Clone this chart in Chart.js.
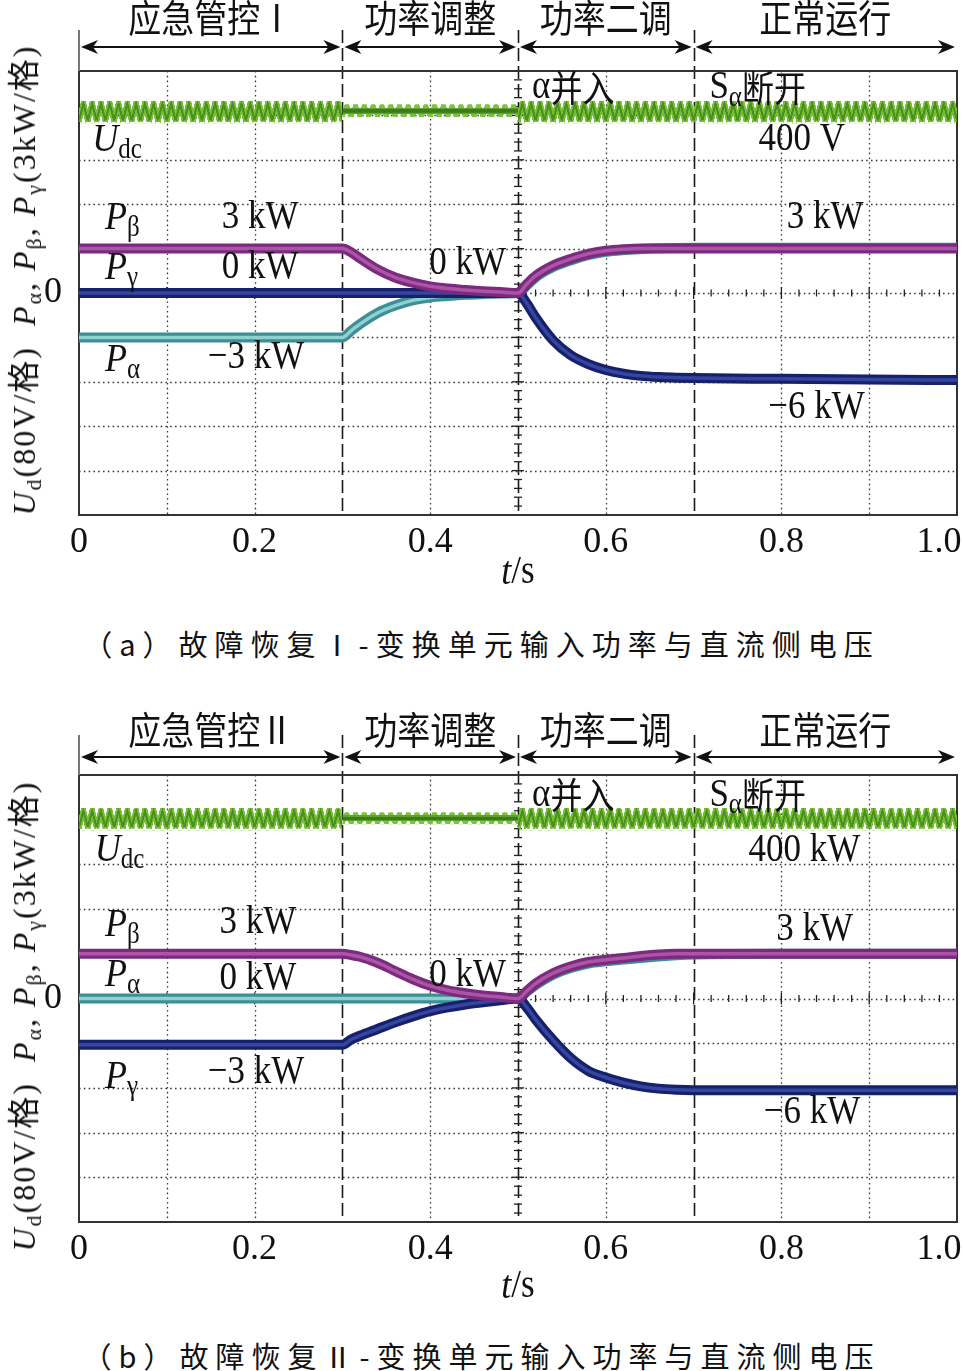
<!DOCTYPE html>
<html>
<head>
<meta charset="utf-8">
<title>故障恢复-变换单元输入功率与直流侧电压</title>
<script src="https://cdn.jsdelivr.net/npm/chart.js@4.4.1/dist/chart.umd.min.js"></script>
<style>
  html, body { margin: 0; padding: 0; background: #fff; }
  #page { position: relative; width: 963px; height: 1371px; overflow: hidden; background: #fff; }
  canvas { position: absolute; left: 0; }
  #chartA { top: 0; }
  #chartB { top: 704px; }
  .ytitle { position: absolute; white-space: nowrap; color: #111;
    font: 32px "Liberation Serif", "Noto Sans CJK SC", serif; letter-spacing: 2px;
    transform: translate(-50%, -50%) rotate(-90deg); }
  .ytitle sub { font-size: 22px; vertical-align: -6px; line-height: 0; }
  .cap { position: absolute; left: 0; width: 963px; text-align: center; color: #111;
    font: 29px "Noto Sans CJK SC", sans-serif; letter-spacing: 7px; transform: translateY(-50%); }
</style>
</head>
<body>
<div id="page">
  <canvas id="chartA" width="963" height="600"></canvas>
  <canvas id="chartB" width="963" height="600"></canvas>
  <div class="ytitle" style="left:21px;top:280px"><i>U</i><sub>d</sub>(80V/格)&nbsp; <i>P</i><sub>α</sub>, <i>P</i><sub>β</sub>, <i>P</i><sub>γ</sub>(3kW/格)</div>
  <div class="ytitle" style="left:21px;top:1016px"><i>U</i><sub>d</sub>(80V/格)&nbsp; <i>P</i><sub>α</sub>, <i>P</i><sub>β</sub>, <i>P</i><sub>γ</sub>(3kW/格)</div>
  <div class="cap" style="top:643px">（a）故障恢复Ⅰ-变换单元输入功率与直流侧电压</div>
  <div class="cap" style="top:1355px">（b）故障恢复Ⅱ-变换单元输入功率与直流侧电压</div>
</div>
<script>
const SERIF = '"Liberation Serif", "DejaVu Serif", serif';
const CJK = '"Noto Sans CJK SC", sans-serif';

// time axis (s) and tick labels
const xTickLabels = ['0', '0.2', '0.4', '0.6', '0.8', '1.0'];
const phaseBounds = [0, 0.3, 0.5, 0.7, 1.0];
const phaseNamesA = ['应急管控Ⅰ', '功率调整', '功率二调', '正常运行'];
const phaseNamesB = ['应急管控Ⅱ', '功率调整', '功率二调', '正常运行'];

// sample times for the power traces
const tTrace = [0, 0.3, 0.31, 0.32, 0.34, 0.36, 0.38, 0.40, 0.42, 0.44, 0.46, 0.48, 0.5,
  0.51, 0.52, 0.54, 0.56, 0.58, 0.60, 0.62, 0.64, 0.66, 0.68, 0.70, 0.8, 0.9, 1.0];

// (a) powers in kW
const betaA  = [3.0, 3.0, 2.75, 2.35, 1.6, 1.05, 0.7, 0.45, 0.3, 0.2, 0.12, 0.06, 0.0,
  0.6, 1.15, 1.85, 2.3, 2.65, 2.85, 2.95, 3.0, 3.0, 3.0, 3.0, 3.0, 3.0, 3.0];
const alphaA = [-3.0, -3.0, -2.55, -2.1, -1.35, -0.85, -0.5, -0.3, -0.2, -0.12, -0.07, -0.03, 0.0,
  0.5, 1.05, 1.75, 2.2, 2.55, 2.78, 2.9, 2.97, 3.02, 3.04, 3.05, 3.05, 3.05, 3.05];
const gammaA = [0, 0, 0, 0, 0, 0, 0, 0, 0, 0, 0, 0, 0,
  -0.7, -1.65, -3.2, -4.2, -4.8, -5.2, -5.45, -5.6, -5.68, -5.72, -5.75, -5.8, -5.85, -5.88];

// (b) powers in kW
const betaB  = [3.0, 3.0, 2.92, 2.8, 2.4, 1.85, 1.3, 0.85, 0.55, 0.35, 0.2, 0.1, 0.0,
  0.5, 1.0, 1.7, 2.15, 2.45, 2.6, 2.72, 2.85, 2.95, 3.0, 3.0, 3.0, 3.0, 3.0];
const alphaB = [0, 0, 0, 0, 0, 0, 0, 0, 0, 0, 0, 0, 0,
  0.45, 0.9, 1.6, 2.05, 2.35, 2.5, 2.62, 2.72, 2.82, 2.9, 2.95, 3.0, 3.0, 3.0];
const gammaB = [-3.1, -3.1, -2.75, -2.5, -2.05, -1.6, -1.2, -0.85, -0.6, -0.4, -0.25, -0.12, 0.0,
  -0.6, -1.4, -2.8, -4.0, -4.85, -5.3, -5.65, -5.9, -6.05, -6.12, -6.15, -6.15, -6.15, -6.15];

// Udc ripple band (in plot units), per phase segment, ripple period 0.01 s
const udcStart = [0, 0.3, 0.5];
const udcEnd   = [0.3, 0.5, 1.0];
const udcHiA = [13.0, 12.75, 13.0];
const udcLoA = [11.45, 11.85, 11.45];
const udcHiB = [12.78, 12.5, 12.78];
const udcLoB = [11.3, 11.7, 11.3];
const udcPeriod = 0.01;

const FONTS = {
  r: `35px ${SERIF}`,
  i: `italic 36px ${SERIF}`,
  s: `25px ${SERIF}`,
  c: `32px ${CJK}`,
  h: `33px ${CJK}`
};

function drawRich(ctx, x, y, parts, center) {
  ctx.save();
  ctx.translate(x, y);
  ctx.scale(1, 1.14);
  ctx.textBaseline = 'middle';
  ctx.textAlign = 'left';
  ctx.fillStyle = '#111';
  let total = 0;
  parts.forEach(([k, s]) => { ctx.font = FONTS[k]; total += ctx.measureText(s).width; });
  let cx = center ? -total / 2 : 0;
  parts.forEach(([k, s]) => {
    ctx.font = FONTS[k];
    ctx.fillText(s, cx, k === 's' ? 9 : 0);
    cx += ctx.measureText(s).width;
  });
  ctx.restore();
}

const P = (sub) => [['i', 'P'], ['s', sub]];
const kw = (s) => [['r', s]];

// ripple texture for the Udc band, scaled to one ripple period and the band height
function udcPattern(hi, lo, calm) {
  return (c) => {
    const chart = c.chart, area = chart.chartArea;
    if (!area) return 'rgba(110,180,50,0.8)';
    const xs = chart.scales.x, ys = chart.scales.y;
    const top = ys.getPixelForValue(hi);
    const h = ys.getPixelForValue(lo) - top;
    const w = xs.getPixelForValue(udcPeriod) - xs.getPixelForValue(0);
    const tw = 40, th = 80;
    const tile = document.createElement('canvas');
    tile.width = tw; tile.height = th;
    const g = tile.getContext('2d');
    const zig = (a, b) => { g.beginPath(); g.moveTo(0, th * b); g.lineTo(tw / 2, th * a); g.lineTo(tw, th * b); g.stroke(); };
    g.lineJoin = 'miter';
    if (calm) {
      g.strokeStyle = '#7cc43e'; g.lineWidth = 20; zig(0.04, 0.96);
      g.fillStyle = '#5ea330';
      g.fillRect(0, th * 0.25, tw, th * 0.5);
      g.fillStyle = '#3c7a1a';
      g.fillRect(0, th * 0.38, tw, th * 0.24);
    } else {
      g.strokeStyle = '#76be36'; g.lineWidth = 24; zig(0.08, 0.92);
      g.strokeStyle = '#4a8f1f'; g.lineWidth = 9; zig(0.14, 0.86);
    }
    const pat = chart.ctx.createPattern(tile, 'repeat');
    pat.setTransform(new DOMMatrix().translate(area.left, top).scale(w / tw, h / th));
    return pat;
  };
}

function scopePlugin(cfg) {
  return {
    id: 'scope' + cfg.id,
    beforeDatasetsDraw(chart) {
      const {ctx, chartArea: a, scales: {x, y}} = chart;
      const seg = (x0, y0, x1, y1) => { ctx.beginPath(); ctx.moveTo(x0, y0); ctx.lineTo(x1, y1); ctx.stroke(); };
      ctx.save();
      // dotted divisions
      ctx.strokeStyle = '#3a3a3a'; ctx.lineWidth = 1.3; ctx.setLineDash([1.6, 3.2]);
      for (let i = 1; i < 10; i++) {
        const t = i / 10;
        if (phaseBounds.some(b => Math.abs(b - t) < 1e-9)) continue;
        const px = Math.round(x.getPixelForValue(t)) + 0.5;
        seg(px, a.top, px, a.bottom);
      }
      for (let v = -12; v <= 12; v += 3) {
        const py = Math.round(y.getPixelForValue(v)) + 0.5;
        seg(a.left, py, a.right, py);
      }
      // phase boundaries
      ctx.setLineDash([13, 5]); ctx.strokeStyle = '#1a1a1a'; ctx.lineWidth = 1.6;
      phaseBounds.slice(1, -1).forEach(t => {
        const px = Math.round(x.getPixelForValue(t)) + 0.5;
        seg(px, cfg.headTop, px, a.bottom);
      });
      // centre graticule ticks
      ctx.setLineDash([]); ctx.lineWidth = 1.3; ctx.strokeStyle = '#222';
      const cx = x.getPixelForValue(0.5), cy = y.getPixelForValue(0);
      for (let k = -25; k <= 25; k++) {
        const py = y.getPixelForValue(k * 0.6), half = k % 5 === 0 ? 6 : 4;
        seg(cx - half, py, cx + half, py);
      }
      for (let k = 0; k <= 50; k++) {
        const px = x.getPixelForValue(k * 0.02), half = k % 5 === 0 ? 6 : 3.5;
        seg(px, cy - half, px, cy + half);
      }
      // frame
      ctx.strokeStyle = '#333'; ctx.lineWidth = 2;
      ctx.strokeRect(a.left, a.top, a.width, a.height);
      ctx.restore();
    },
    afterDatasetsDraw(chart) {
      const {ctx, scales: {x, y}} = chart;
      cfg.labels.forEach(([t, v, parts]) => drawRich(ctx, x.getPixelForValue(t), y.getPixelForValue(v), parts));
    },
    afterDraw(chart) {
      const {ctx, chartArea: a, scales: {x}} = chart;
      ctx.save();
      // phase names and arrows
      cfg.names.forEach((n, i) => {
        const xm = x.getPixelForValue((phaseBounds[i] + phaseBounds[i + 1]) / 2);
        drawRich(ctx, xm, cfg.labelY, [['h', n]], true);
      });
      ctx.strokeStyle = '#111'; ctx.fillStyle = '#111'; ctx.lineWidth = 2;
      const yy = cfg.arrowY;
      const head = (tip, dir) => {
        ctx.beginPath(); ctx.moveTo(tip, yy);
        ctx.lineTo(tip + dir * 17, yy - 7); ctx.lineTo(tip + dir * 12, yy);
        ctx.lineTo(tip + dir * 17, yy + 7); ctx.closePath(); ctx.fill();
      };
      for (let i = 0; i < phaseBounds.length - 1; i++) {
        const x0 = x.getPixelForValue(phaseBounds[i]) + 2, x1 = x.getPixelForValue(phaseBounds[i + 1]) - 2;
        ctx.beginPath(); ctx.moveTo(x0 + 6, yy); ctx.lineTo(x1 - 6, yy); ctx.stroke();
        head(x0, 1); head(x1, -1);
      }
      ctx.strokeStyle = '#777'; ctx.lineWidth = 2;
      const x0 = x.getPixelForValue(0);
      ctx.beginPath(); ctx.moveTo(x0, cfg.headTop); ctx.lineTo(x0, a.top); ctx.stroke();
      ctx.restore();
      drawRich(ctx, x.getPixelForValue(0.5), cfg.tsY, [['i', 't'], ['r', '/s']], true);
    }
  };
}

function buildChart(canvasId, cfg) {
  const datasets = [];
  for (let i = 0; i < udcStart.length; i++) {
    const calm = i === 1;
    datasets.push({
      data: [{x: udcStart[i], y: cfg.udcHi[i]}, {x: udcEnd[i], y: cfg.udcHi[i]}],
      fill: '+1', backgroundColor: udcPattern(cfg.udcHi[i], cfg.udcLo[i], calm),
      borderWidth: 0, borderColor: 'rgba(0,0,0,0)', order: 20
    });
    datasets.push({
      data: [{x: udcStart[i], y: cfg.udcLo[i]}, {x: udcEnd[i], y: cfg.udcLo[i]}],
      fill: false, borderWidth: 0, borderColor: 'rgba(0,0,0,0)', order: 20
    });
  }
  const traces = [
    [cfg.alpha, '#3d8f95', '#8fd0d1'],
    [cfg.gamma, '#17206b', '#3446a0'],
    [cfg.beta,  '#7b2a80', '#aa56a4']
  ];
  traces.forEach(([vals, cOut, cIn], k) => {
    datasets.push({ data: tTrace.map((t, j) => ({x: t, y: vals[j]})), borderColor: cOut, borderWidth: 10, order: 10 - 2 * k });
    datasets.push({ data: tTrace.map((t, j) => ({x: t, y: vals[j]})), borderColor: cIn, borderWidth: 3.5, order: 9 - 2 * k });
  });

  return new Chart(document.getElementById(canvasId), {
    type: 'line',
    data: { datasets },
    options: {
      responsive: false,
      animation: false,
      layout: { padding: { left: 0, right: 6, top: 71, bottom: 0 } },
      elements: {
        point: { radius: 0 },
        line: { cubicInterpolationMode: 'monotone', borderJoinStyle: 'round', fill: false }
      },
      plugins: { legend: { display: false }, tooltip: { enabled: false } },
      scales: {
        x: {
          type: 'linear', min: 0, max: 1,
          grid: { display: false }, border: { display: false },
          ticks: {
            stepSize: 0.2, padding: -2, color: '#111', maxRotation: 0, autoSkip: false,
            font: { family: SERIF, size: 36 },
            callback: (v, i) => i === xTickLabels.length - 1 ? xTickLabels[i] + '\u2002\u2002' : xTickLabels[i]
          },
          afterFit: (s) => { s.height = cfg.xAxisH; s.paddingLeft = 0; s.paddingRight = 0; }
        },
        y: {
          type: 'linear', min: -15, max: 15,
          grid: { display: false }, border: { display: false },
          afterBuildTicks: (s) => { s.ticks = [{ value: 0 }]; },
          ticks: { padding: 9, color: '#111', font: { family: SERIF, size: 36 }, callback: () => '0' },
          afterFit: (s) => { s.width = 79; s.paddingTop = 0; s.paddingBottom = 0; }
        }
      }
    },
    plugins: [scopePlugin(cfg)]
  });
}

buildChart('chartA', {
  id: 'A', beta: betaA, alpha: alphaA, gamma: gammaA, udcHi: udcHiA, udcLo: udcLoA,
  names: phaseNamesA, headTop: 30, labelY: 18, arrowY: 47, tsY: 573, xAxisH: 85,
  labels: [
    [0.516, 13.85, [['r', 'α'], ['c', '并入']]],
    [0.718, 13.85, [['r', 'S'], ['s', 'α'], ['c', '断开']]],
    [0.015, 10.34, [['i', 'U'], ['s', 'dc']]],
    [0.774, 10.34, kw('400 V')],
    [0.0295, 5.07, P('β')], [0.1625, 5.07, kw('3 kW')],
    [0.0295, 1.69, P('γ')], [0.1625, 1.69, kw('0 kW')],
    [0.399, 1.96, kw('0 kW')],
    [0.806, 5.07, kw('3 kW')],
    [0.0295, -4.53, P('α')], [0.1466, -4.39, kw('−3 kW')],
    [0.785, -7.77, kw('−6 kW')]
  ]
});

buildChart('chartB', {
  id: 'B', beta: betaB, alpha: alphaB, gamma: gammaB, udcHi: udcHiB, udcLo: udcLoB,
  names: phaseNamesB, headTop: 31, labelY: 26, arrowY: 53, tsY: 583, xAxisH: 82,
  labels: [
    [0.516, 13.65, [['r', 'α'], ['c', '并入']]],
    [0.718, 13.65, [['r', 'S'], ['s', 'α'], ['c', '断开']]],
    [0.018, 9.95, [['i', 'U'], ['s', 'dc']]],
    [0.7625, 9.95, kw('400 kW')],
    [0.0295, 4.91, P('β')], [0.160, 5.11, kw('3 kW')],
    [0.0295, 1.55, P('α')], [0.160, 1.35, kw('0 kW')],
    [0.399, 1.55, kw('0 kW')],
    [0.794, 4.64, kw('3 kW')],
    [0.0295, -5.31, P('γ')], [0.1466, -4.98, kw('−3 kW')],
    [0.78, -7.67, kw('−6 kW')]
  ]
});
</script>
</body>
</html>
